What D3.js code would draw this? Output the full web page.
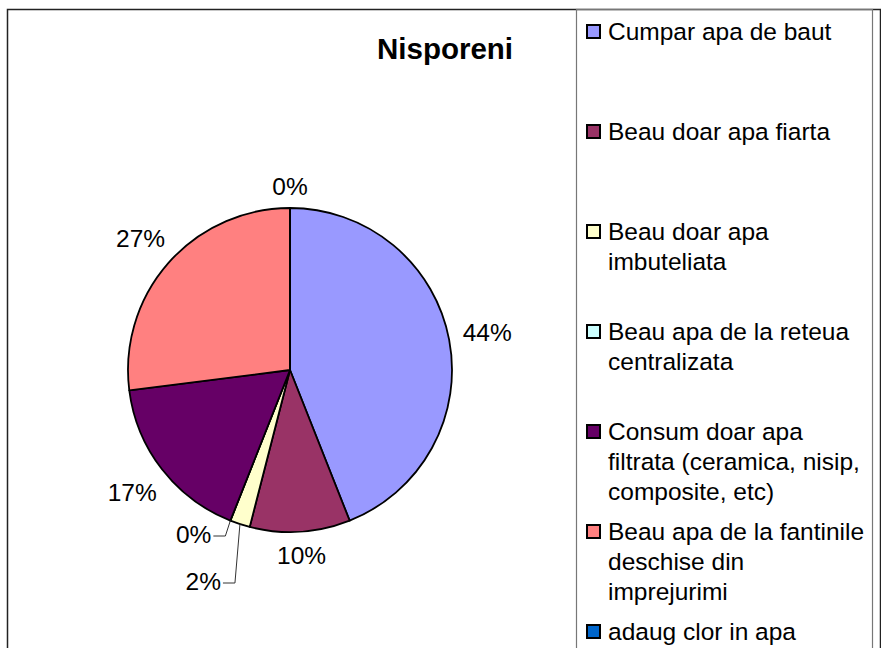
<!DOCTYPE html>
<html>
<head>
<meta charset="utf-8">
<script src="https://cdn.jsdelivr.net/npm/d3@7"></script>
<style>
  body { margin: 0; background: #fff; }
  text { font-family: "Liberation Sans", Arial, sans-serif; fill: #000; }
</style>
</head>
<body>
<div id="chart"></div>
<script>
// chart data
var title = "Nisporeni";
var categories = [
  "Cumpar apa de baut",
  "Beau doar apa fiarta",
  "Beau doar apa imbuteliata",
  "Beau apa de la reteua centralizata",
  "Consum doar apa filtrata (ceramica, nisip, composite, etc)",
  "Beau apa de la fantinile deschise din imprejurimi",
  "adaug clor in apa"
];
var values = [44, 10, 2, 0, 17, 27, 0];
var colors = ["#9999FF", "#993366", "#FFFFCC", "#CCFFFF", "#660066", "#FF8080", "#0066CC"];

var svgWidth = 881;
var svgHeight = 648;

var svg = d3.select("#chart")
  .append("svg")
  .attr("width", svgWidth)
  .attr("height", svgHeight);

// outer chart border and legend box
svg.append("rect")
  .attr("x", 7.5).attr("y", 9.5)
  .attr("width", 873).attr("height", 700)
  .attr("fill", "none")
  .attr("stroke", "#222")
  .attr("stroke-width", 1.5);

svg.append("rect")
  .attr("x", 576.5).attr("y", 9.5)
  .attr("width", 296).attr("height", 700)
  .attr("fill", "none")
  .attr("stroke", "#777")
  .attr("stroke-width", 1.2);

// title
svg.append("text")
  .attr("x", 445)
  .attr("y", 59)
  .attr("text-anchor", "middle")
  .attr("font-size", "29.5px")
  .attr("font-weight", "bold")
  .text(title);

// pie
var cx = 290, cy = 370, radius = 162;
var total = d3.sum(values);
var pct = d3.format(".0%");

var pie = d3.pie().sort(null).value(d => d);
var arcs = pie(values);
var arc = d3.arc().innerRadius(0).outerRadius(radius);

var pieGroup = svg.append("g")
  .attr("transform", `translate(${cx}, ${cy})`);

pieGroup.selectAll("path")
  .data(arcs)
  .enter()
  .append("path")
  .attr("d", arc)
  .attr("fill", (d, i) => colors[i])
  .attr("stroke", "#000")
  .attr("stroke-width", 1.8)
  .attr("stroke-linejoin", "round");

// labels: small neighbouring slices get leader lines
var n = values.length;
function isSmall(i) { return values[(i + n) % n] / total < 0.05; }
var crowded = arcs.map((d, i) => isSmall(i) && (isSmall(i - 1) || isSmall(i + 1)) && i > 0 && i < n - 1);

var labelsGroup = pieGroup.append("g");
arcs.forEach(function (d, i) {
  var mid = (d.startAngle + d.endAngle) / 2;
  var dx = Math.sin(mid), dy = -Math.cos(mid);
  var t = labelsGroup.append("text")
    .attr("font-size", "24.5px")
    .text(pct(d.value / total));
  if (crowded[i]) return;
  var hw = t.node().getComputedTextLength() / 2;
  var hh = 8.7;
  var dist = radius + 13 + Math.abs(dx) * hw + Math.abs(dy) * hh;
  t.attr("text-anchor", "middle")
    .attr("x", dx * dist)
    .attr("y", dy * dist + hh);
});

// crowded labels, stacked downward, furthest clockwise first
var crowdIdx = arcs.map((d, i) => i).filter(i => crowded[i])
  .sort((a, b) => arcs[b].startAngle - arcs[a].startAngle);
crowdIdx.forEach(function (i, k) {
  var d = arcs[i];
  var mid = (d.startAngle + d.endAngle) / 2;
  var sx = Math.sin(mid) * radius, sy = -Math.cos(mid) * radius;
  var ey = radius + 4 + 47 * k;
  var ex = sx - 5;
  labelsGroup.append("polyline")
    .attr("points", `${sx},${sy} ${ex},${ey} ${ex - 12},${ey}`)
    .attr("fill", "none")
    .attr("stroke", "#333")
    .attr("stroke-width", 1);
  labelsGroup.selectAll("text").filter((x, j) => j === i)
    .attr("text-anchor", "end")
    .attr("x", ex - 14)
    .attr("y", ey + 7);
});

// legend
var legendX = 586, legendY = 40, itemStep = 100, lineStep = 30, maxWidth = 260;
var legend = svg.append("g");
categories.forEach(function (name, i) {
  var y = legendY + i * itemStep;
  legend.append("rect")
    .attr("x", legendX + 1)
    .attr("y", y - 15)
    .attr("width", 13)
    .attr("height", 13)
    .attr("fill", colors[i])
    .attr("stroke", "#000")
    .attr("stroke-width", 2);

  var text = legend.append("text")
    .attr("x", legendX + 22)
    .attr("y", y)
    .attr("font-size", "24.5px");

  // word wrap
  var words = name.split(" ");
  var line = [];
  var lineNo = 0;
  var tspan = text.append("tspan").attr("x", legendX + 22).attr("y", y);
  words.forEach(function (w) {
    line.push(w);
    tspan.text(line.join(" "));
    if (tspan.node().getComputedTextLength() > maxWidth && line.length > 1) {
      line.pop();
      tspan.text(line.join(" "));
      line = [w];
      lineNo++;
      tspan = text.append("tspan")
        .attr("x", legendX + 22)
        .attr("y", y + lineNo * lineStep)
        .text(w);
    }
  });
});
</script>
</body>
</html>
